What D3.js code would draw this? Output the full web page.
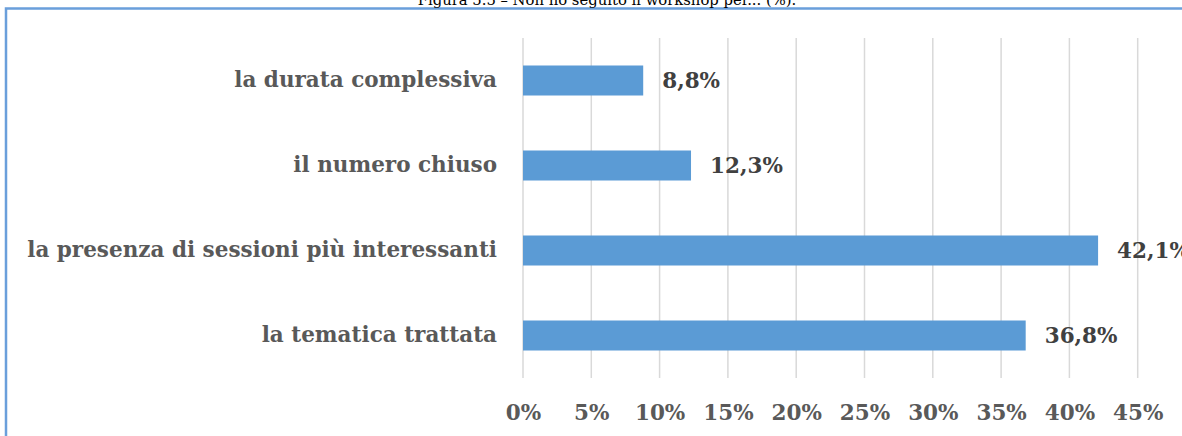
<!DOCTYPE html>
<html>
<head>
<meta charset="utf-8">
<script src="https://cdn.jsdelivr.net/npm/d3@7"></script>
<style>
  body { margin: 0; background: #fff; }
  svg { display: block; }
</style>
</head>
<body>
<svg id="canvas" width="1182" height="436"></svg>
<script>
// data
const categories = [
  'la durata complessiva',
  'il numero chiuso',
  'la presenza di sessioni più interessanti',
  'la tematica trattata'
];
const values = [8.8, 12.3, 42.1, 36.8];
const gridValues = [0, 5, 10, 15, 20, 25, 30, 35, 40, 45, 50];
const tickLabels = [0, 5, 10, 15, 20, 25, 30, 35, 40, 45];
const title = 'Figura 5.5 – Non ho seguito il workshop per... (%).';

const svg = d3.select('#canvas');
const font = "'DejaVu Serif', Cambria, serif";
const fontSize = '21.5px';

// frame round the chart (cut by the window on the right and bottom)
svg.append('rect')
  .attr('x', 6)
  .attr('y', 8.5)
  .attr('width', 1250)
  .attr('height', 500)
  .attr('fill', 'none')
  .attr('stroke', '#6A9FDB')
  .attr('stroke-width', 2.5);

// title, mostly above the window
svg.append('text')
  .attr('x', 607)
  .attr('y', 5)
  .attr('text-anchor', 'middle')
  .style('font-family', font)
  .style('font-size', '14.8px')
  .style('fill', '#000')
  .text(title);

const x = d3.scaleLinear().domain([0, 50]).range([523, 1206]);
const y = d3.scaleBand()
  .domain(categories)
  .range([38, 378])
  .paddingInner(0.647)
  .paddingOuter(0.3235);

// vertical gridlines
svg.append('g')
  .selectAll('line')
  .data(gridValues)
  .enter()
  .append('line')
  .attr('x1', (d) => x(d))
  .attr('x2', (d) => x(d))
  .attr('y1', 38)
  .attr('y2', 378)
  .attr('stroke', '#D9D9D9')
  .attr('stroke-width', 1.5);

// x axis labels
const xAxis = d3.axisBottom(x)
  .tickValues(tickLabels)
  .tickSize(0)
  .tickPadding(0)
  .tickFormat((d) => d + '%');

const gx = svg.append('g')
  .attr('transform', 'translate(0,405)')
  .call(xAxis);
gx.select('.domain').remove();
gx.selectAll('text')
  .attr('dy', '0.71em')
  .style('font-family', font)
  .style('font-size', fontSize)
  .style('font-weight', 'bold')
  .style('fill', '#595959');

// y axis labels
const yAxis = d3.axisLeft(y).tickSize(0).tickPadding(26);
const gy = svg.append('g')
  .attr('transform', 'translate(523,0)')
  .call(yAxis);
gy.select('.domain').remove();
gy.selectAll('text')
  .style('font-family', font)
  .style('font-size', fontSize)
  .style('font-weight', 'bold')
  .style('fill', '#595959');

// bars
svg.append('g')
  .selectAll('rect')
  .data(values)
  .enter()
  .append('rect')
  .attr('x', x(0))
  .attr('y', (d, i) => y(categories[i]))
  .attr('width', (d) => x(d) - x(0))
  .attr('height', y.bandwidth())
  .attr('fill', '#5B9BD5');

// value labels
svg.append('g')
  .selectAll('text')
  .data(values)
  .enter()
  .append('text')
  .attr('x', (d) => x(d) + 19)
  .attr('y', (d, i) => y(categories[i]) + y.bandwidth() / 2)
  .attr('dy', '0.35em')
  .style('font-family', font)
  .style('font-size', fontSize)
  .style('font-weight', 'bold')
  .style('fill', '#404040')
  .text((d) => d.toFixed(1).replace('.', ',') + '%');
</script>
</body>
</html>
